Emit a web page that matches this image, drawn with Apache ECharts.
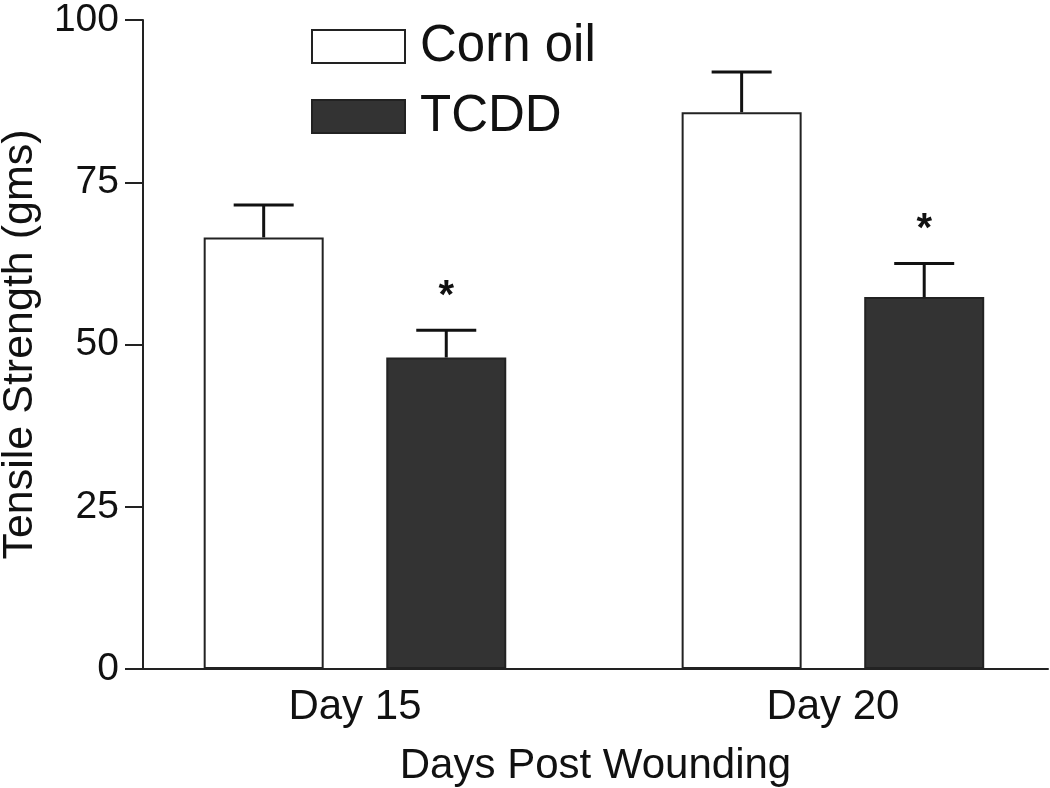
<!DOCTYPE html>
<html>
<head>
<meta charset="utf-8">
<script src="https://cdn.jsdelivr.net/npm/echarts@6/dist/echarts.min.js"></script>
<style>
  html, body { margin: 0; padding: 0; background: #fff; }
  #chart { width: 1050px; height: 788px; }
</style>
</head>
<body>
<div id="chart"></div>
<script>
  // data
  var categories = ['Day 15', 'Day 20']
  var seriesNames = ['Corn oil', 'TCDD']
  var cornOil = [66.5, 85.8]
  var cornOilErr = [5.0, 6.2]
  var tcdd = [48.0, 57.3]
  var tcddErr = [4.2, 5.2]
  var tcddStars = ['*', '*']
  var yTicks = [0, 25, 50, 75, 100]

  var offset = 0.191 // half distance between bars of a group, in x units
  var font = 'Liberation Sans, Arial, sans-serif'

  function pos (i, side) { return i + 1 + side * offset }

  var cornData = cornOil.map(function (v, i) { return [pos(i, -1), v] })
  var tcddData = tcdd.map(function (v, i) { return [pos(i, 1), v] })
  var errData = []
  cornOil.forEach(function (v, i) { errData.push([pos(i, -1), v, cornOilErr[i], '']) })
  tcdd.forEach(function (v, i) { errData.push([pos(i, 1), v, tcddErr[i], tcddStars[i]]) })

  var chart = echarts.init(document.getElementById('chart'))
  chart.setOption({
    animation: false,
    backgroundColor: '#fff',
    grid: { left: 143, right: 2, top: 20, bottom: 119, outerBoundsMode: 'none', containLabel: false },
    legend: {
      orient: 'vertical',
      left: 311,
      top: 21,
      padding: 0,
      itemWidth: 93,
      itemHeight: 33,
      itemGap: 19,
      icon: 'rect',
      textStyle: { fontFamily: font, fontSize: 51, color: '#111', padding: [0, 0, 0, 10] },
      data: seriesNames
    },
    xAxis: {
      type: 'value',
      min: 0.5565,
      max: 2.45,
      name: 'Days Post Wounding',
      nameLocation: 'middle',
      nameGap: 76,
      nameTextStyle: { fontFamily: font, fontSize: 42, color: '#111' },
      axisLine: { show: true, onZero: false, lineStyle: { color: '#222', width: 2 } },
      axisTick: { show: false },
      splitLine: { show: false },
      axisLabel: {
        customValues: [1, 2],
        formatter: function (v) { return categories[Math.round(v) - 1] || '' },
        fontFamily: font,
        fontSize: 42,
        color: '#111',
        margin: 17
      }
    },
    yAxis: {
      type: 'value',
      min: 0,
      max: 100,
      interval: 25,
      name: 'Tensile Strength (gms)',
      nameLocation: 'middle',
      nameGap: 101,
      nameTextStyle: { fontFamily: font, fontSize: 43, color: '#111' },
      axisLine: { show: true, lineStyle: { color: '#222', width: 2 } },
      axisTick: { show: true, length: 18, lineStyle: { color: '#222', width: 2 } },
      splitLine: { show: false },
      axisLabel: {
        fontFamily: font,
        fontSize: 39,
        color: '#111',
        margin: 24,
        formatter: function (v) { return yTicks.indexOf(v) >= 0 ? String(v) : '' }
      }
    },
    series: [
      {
        name: seriesNames[0],
        type: 'bar',
        barWidth: 120,
        barGap: '-100%',
        itemStyle: { color: '#fff', borderColor: '#222', borderWidth: 2 },
        data: cornData
      },
      {
        name: seriesNames[1],
        type: 'bar',
        barWidth: 120,
        barGap: '-100%',
        itemStyle: { color: '#333', borderColor: '#222', borderWidth: 2 },
        data: tcddData
      },
      {
        type: 'custom',
        z: 5,
        data: errData,
        renderItem: function (params, api) {
          var x = api.value(0)
          var mean = api.value(1)
          var err = api.value(2)
          var star = api.value(3)
          var base = api.coord([x, mean])
          var top = api.coord([x, mean + err])
          var half = 30
          var children = [
            { type: 'line', shape: { x1: base[0], y1: base[1], x2: top[0], y2: top[1] }, style: { stroke: '#111', lineWidth: 3 } },
            { type: 'line', shape: { x1: top[0] - half, y1: top[1], x2: top[0] + half, y2: top[1] }, style: { stroke: '#111', lineWidth: 3 } }
          ]
          if (star) {
            children.push({
              type: 'text',
              style: {
                x: top[0],
                y: top[1] - 33,
                text: star,
                fontFamily: font,
                fontSize: 40,
                fontWeight: 'bold',
                fill: '#111',
                align: 'center',
                verticalAlign: 'middle'
              }
            })
          }
          return { type: 'group', children: children }
        }
      }
    ]
  })
</script>
</body>
</html>
